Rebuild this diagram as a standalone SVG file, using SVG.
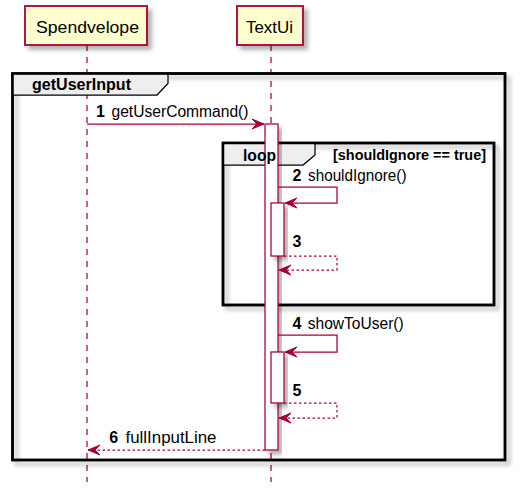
<svg xmlns="http://www.w3.org/2000/svg" width="522" height="489" viewBox="0 0 522 489">
<defs>
<filter id="sh" x="-20%" y="-20%" width="150%" height="150%">
<feDropShadow dx="4" dy="4" stdDeviation="2" flood-color="#000" flood-opacity="0.3"/>
</filter>
<marker id="ah" viewBox="-13 -6 14 12" markerWidth="14" markerHeight="12" refX="0" refY="0" orient="auto" markerUnits="userSpaceOnUse">
<path d="M0,0 L-12,-5 L-7,0 L-12,5 Z" fill="#A80036" stroke="#A80036" stroke-width="1"/>
</marker>
</defs>
<style>
text{font-family:"Liberation Sans",Arial,sans-serif;fill:#000}
.part{fill:#FEFECE;stroke:#A80036;stroke-width:1.8}
.life{stroke:#A80036;stroke-width:1.25;stroke-dasharray:6,6;fill:none}
.frame{fill:none;stroke:#000;stroke-width:2.5}
.tab{fill:#EEEEEE;stroke:#000;stroke-width:1.25}
.act{fill:#FFFFFF;stroke:#A80036;stroke-width:1.25}
.msg{fill:none;stroke:#A80036;stroke-width:1.25}
.ret{fill:none;stroke:#A80036;stroke-width:1.25;stroke-dasharray:2.5,2.5}
.pl{font-size:16.5px}
.ml{font-size:16px}
.num{font-size:16px;font-weight:bold}
.gl{font-size:16px;font-weight:bold}
.cond{font-size:14.5px;font-weight:bold}
</style>
<g id="lifelines">
<line class="life" x1="87" y1="45" x2="87" y2="482"/>
<line class="life" x1="271" y1="45" x2="271" y2="482"/>
</g>
<g id="Spendvelope">
<rect class="part" x="25" y="6" width="122" height="39" filter="url(#sh)"/>
<text class="pl" x="36" y="33" textLength="103" lengthAdjust="spacingAndGlyphs">Spendvelope</text>
</g>
<g id="TextUi">
<rect class="part" x="237" y="6" width="66" height="39" filter="url(#sh)"/>
<text class="pl" x="246" y="33" textLength="47" lengthAdjust="spacingAndGlyphs">TextUi</text>
</g>
<g id="group-getUserInput">
<rect class="frame" x="12.5" y="73.5" width="492.5" height="386.5" filter="url(#sh)"/>
<path class="tab" d="M12.5,73.5 L168,73.5 L168,83.5 L157,95 L12.5,95 Z"/>
<rect class="frame" x="12.5" y="73.5" width="492.5" height="386.5"/>
<text class="gl" x="32" y="90" textLength="99" lengthAdjust="spacingAndGlyphs">getUserInput</text>
</g>
<g id="loop">
<rect class="frame" x="223" y="143" width="271" height="162" filter="url(#sh)"/>
<path class="tab" d="M223,143 L315,143 L315,155 L303,165 L223,165 Z"/>
<rect class="frame" x="223" y="143" width="271" height="162"/>
<text class="cond" x="333" y="159.5" textLength="153" lengthAdjust="spacingAndGlyphs">[shouldIgnore == true]</text>
</g>
<g id="activations">
<rect class="act" x="265" y="124" width="13" height="326" filter="url(#sh)"/>
<rect class="act" x="271" y="203" width="13" height="53" filter="url(#sh)"/>
<rect class="act" x="271" y="352" width="13" height="51" filter="url(#sh)"/>
</g>
<g id="loop-label">
<text class="gl" x="243" y="160.5" textLength="33" lengthAdjust="spacingAndGlyphs">loop</text>
</g>
<g id="connectors">
<line class="msg" x1="87" y1="124" x2="264" y2="124" marker-end="url(#ah)"/>
<polyline class="msg" points="278,187 337,187 337,203 285,203" marker-end="url(#ah)"/>
<polyline class="ret" points="284,256 337,256 337,270 279,270" marker-end="url(#ah)"/>
<polyline class="msg" points="278,335 337,335 337,352 285,352" marker-end="url(#ah)"/>
<polyline class="ret" points="284,403 337,403 337,418 279,418" marker-end="url(#ah)"/>
<line class="ret" x1="265" y1="450" x2="88" y2="450" marker-end="url(#ah)"/>
</g>
<g id="labels">
<text class="num" x="96" y="117">1</text>
<text class="ml" x="111.5" y="117" textLength="137" lengthAdjust="spacingAndGlyphs">getUserCommand()</text>
<text class="num" x="292.5" y="180.5">2</text>
<text class="ml" x="308" y="180.5" textLength="98.5" lengthAdjust="spacingAndGlyphs">shouldIgnore()</text>
<text class="num" x="292.5" y="247">3</text>
<text class="num" x="292.5" y="329">4</text>
<text class="ml" x="307.7" y="329" textLength="96" lengthAdjust="spacingAndGlyphs">showToUser()</text>
<text class="num" x="292.5" y="396">5</text>
<text class="num" x="109.3" y="443">6</text>
<text class="ml" x="125.5" y="443" textLength="91" lengthAdjust="spacingAndGlyphs">fullInputLine</text>
</g>
</svg>
